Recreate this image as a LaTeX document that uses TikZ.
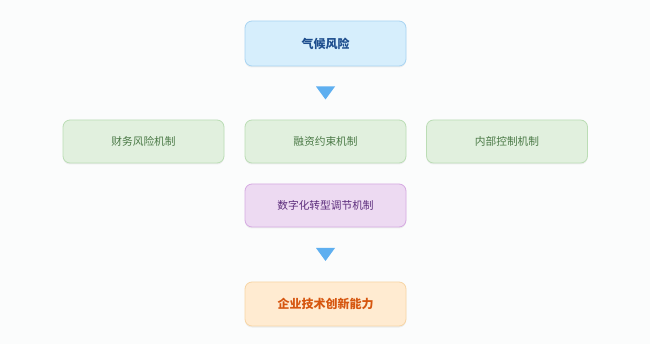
\documentclass[tikz,border=0pt]{standalone}
\usepackage{fontspec}
\setmainfont{Noto Sans CJK SC}
\usetikzlibrary{calc,shadows}
\definecolor{bg}{HTML}{FBFCFC}
\definecolor{bluefill}{HTML}{D6EEFC}
\definecolor{blueline}{HTML}{A8D4F2}
\definecolor{bluetext}{HTML}{1E4E8E}
\definecolor{greenfill}{HTML}{E1F0DE}
\definecolor{greenline}{HTML}{BBDDB5}
\definecolor{greentext}{HTML}{4B7A47}
\definecolor{purplefill}{HTML}{EDDAF2}
\definecolor{purpleline}{HTML}{D6AAE2}
\definecolor{purpletext}{HTML}{5C2D7C}
\definecolor{orangefill}{HTML}{FFEBD1}
\definecolor{orangeline}{HTML}{F7D5A5}
\definecolor{orangetext}{HTML}{D6560F}
\definecolor{arrowblue}{HTML}{5EAFF0}
\tikzset{
  box/.style={draw, line width=0.8pt, rounded corners=7pt, minimum width=161pt, inner sep=0pt,
    drop shadow={shadow xshift=0pt, shadow yshift=-1.5pt, opacity=0.06, fill=black}},
  bluebox/.style={box, fill=bluefill, draw=blueline, text=bluetext, minimum height=45pt, font=\fontsize{12}{14}\selectfont\bfseries},
  greenbox/.style={box, fill=greenfill, draw=greenline, text=greentext, minimum height=43pt, font=\fontsize{10.7}{13}\selectfont},
  purplebox/.style={box, fill=purplefill, draw=purpleline, text=purpletext, minimum height=43pt, font=\fontsize{10.7}{13}\selectfont},
  orangebox/.style={box, fill=orangefill, draw=orangeline, text=orangetext, minimum height=44pt, font=\fontsize{12}{14}\selectfont\bfseries},
  tri/.style={fill=arrowblue}
}
\begin{document}
\begin{tikzpicture}[x=1pt,y=-1pt]
\fill[bg] (0,0) rectangle (650,344);
\useasboundingbox (0,0) rectangle (650,344);
\node[bluebox] (climate) at (325.5,43.5) {气候风险};
\node[greenbox] (fin) at (143.5,141.5) {财务风险机制};
\node[greenbox] (rong) at (325.5,141.5) {融资约束机制};
\node[greenbox] (ctrl) at (507,141.5) {内部控制机制};
\node[purplebox] (digi) at (325.5,205.5) {数字化转型调节机制};
\node[orangebox] (innov) at (325.5,304) {企业技术创新能力};
\coordinate (a1) at ($(climate.south)!0.5!(rong.north)$);
\coordinate (a2) at ($(digi.south)!0.5!(innov.north)$);
\fill[tri] ($(a1)+(-9.5,-6.5)$) -- ($(a1)+(9.5,-6.5)$) -- ($(a1)+(0,6.5)$) -- cycle;
\fill[tri] ($(a2)+(-9.5,-6.5)$) -- ($(a2)+(9.5,-6.5)$) -- ($(a2)+(0,6.5)$) -- cycle;
\end{tikzpicture}
\end{document}
